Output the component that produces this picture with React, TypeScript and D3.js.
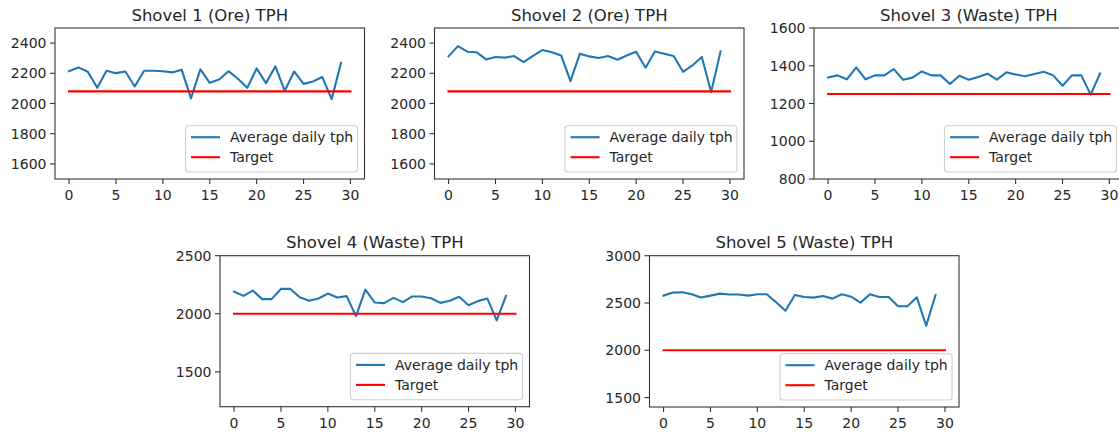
import React from 'react';
import * as d3 from 'd3';

// ---------- DATA ----------
const days = [0, 1, 2, 3, 4, 5, 6, 7, 8, 9, 10, 11, 12, 13, 14, 15, 16, 17, 18, 19, 20, 21, 22, 23, 24, 25, 26, 27, 28, 29];
const xTicks = [0, 5, 10, 15, 20, 25, 30];
const targetSpan = [0, 30];

const shovel1Tph = [2214, 2239, 2210, 2104, 2217, 2201, 2212, 2113, 2217, 2217, 2214, 2206, 2224, 2034, 2226, 2137, 2159, 2214, 2164, 2104, 2232, 2135, 2246, 2084, 2212, 2130, 2146, 2175, 2029, 2270];
const shovel2Tph = [2312, 2380, 2343, 2339, 2292, 2308, 2304, 2314, 2274, 2316, 2354, 2339, 2318, 2148, 2330, 2312, 2301, 2314, 2290, 2318, 2343, 2237, 2345, 2330, 2314, 2210, 2252, 2308, 2076, 2345];
const shovel3Tph = [1338, 1349, 1328, 1391, 1328, 1349, 1349, 1382, 1326, 1337, 1370, 1349, 1349, 1303, 1347, 1326, 1340, 1358, 1326, 1365, 1354, 1344, 1356, 1368, 1349, 1294, 1349, 1349, 1247, 1359];
const shovel4Tph = [2189, 2154, 2200, 2126, 2126, 2214, 2214, 2143, 2112, 2132, 2174, 2140, 2152, 1980, 2208, 2097, 2092, 2137, 2100, 2149, 2149, 2134, 2094, 2112, 2146, 2074, 2109, 2132, 1943, 2154];
const shovel5Tph = [2578, 2610, 2613, 2592, 2557, 2578, 2599, 2589, 2589, 2578, 2592, 2592, 2507, 2418, 2585, 2564, 2557, 2574, 2546, 2592, 2567, 2504, 2592, 2564, 2564, 2465, 2465, 2560, 2259, 2585];

const titles = ['Shovel 1 (Ore) TPH', 'Shovel 2 (Ore) TPH', 'Shovel 3 (Waste) TPH', 'Shovel 4 (Waste) TPH', 'Shovel 5 (Waste) TPH'];
const targets = [2080, 2080, 1250, 2000, 2000];
const yDomains = [[1500, 2500], [1500, 2500], [800, 1600], [1200, 2500], [1400, 3000]];
const yTicksOre = [1600, 1800, 2000, 2200, 2400];
const yTicksShovel3 = [800, 1000, 1200, 1400, 1600];
const yTicksShovel4 = [1500, 2000, 2500];
const yTicksShovel5 = [1500, 2000, 2500, 3000];
const legendLabels = ['Average daily tph', 'Target'];

// ---------- LAYOUT / STYLE ----------
const FONT = '"DejaVu Sans", Verdana, sans-serif';
const TEXT = '#262626';
const BLUE = '#1f77b4';
const RED = '#ff0000';

const boxes = [
  { left: 55, top: 28, width: 309.5, height: 151 },
  { left: 434.5, top: 28, width: 309.5, height: 151 },
  { left: 814, top: 28, width: 309.5, height: 151 },
  { left: 220, top: 255.7, width: 309.5, height: 151 },
  { left: 649.5, top: 255.7, width: 309.5, height: 151.3 },
];

const panels = [
  { series: shovel1Tph, yTicks: yTicksOre },
  { series: shovel2Tph, yTicks: yTicksOre },
  { series: shovel3Tph, yTicks: yTicksShovel3 },
  { series: shovel4Tph, yTicks: yTicksShovel4 },
  { series: shovel5Tph, yTicks: yTicksShovel5 },
].map((p, i) => ({ ...p, title: titles[i], target: targets[i], yDomain: yDomains[i], box: boxes[i] }));

function Panel({ series, yTicks, title, target, yDomain, box }: any) {
  const x = d3.scaleLinear().domain([-1.5, 31.5]).range([box.left, box.left + box.width]);
  const y = d3.scaleLinear().domain(yDomain).range([box.top + box.height, box.top]);
  const line = d3.line<number>().x((_, i) => x(days[i])).y((d) => y(d));
  const targetLine = d3.line<number>().x((d) => x(d)).y(() => y(target));
  const bottom = box.top + box.height;
  const right = box.left + box.width;

  const legW = 172;
  const legH = 46.3;
  const legR = right - 7;
  const legB = bottom - 7;
  const legL = legR - legW;
  const legT = legB - legH;

  return (
    <g>
      <path d={line(series) || ''} fill="none" stroke={BLUE} strokeWidth={2.1} strokeLinejoin="round" strokeLinecap="square" />
      <path d={targetLine(targetSpan) || ''} fill="none" stroke={RED} strokeWidth={2.1} strokeLinecap="square" />
      <rect x={box.left} y={box.top} width={box.width} height={box.height} fill="none" stroke="#333" strokeWidth={1.1} />
      {xTicks.map((t) => (
        <g key={'x' + t}>
          <line x1={x(t)} x2={x(t)} y1={bottom} y2={bottom + 5} stroke="#333" strokeWidth={1.1} />
          <text x={x(t)} y={bottom + 21} textAnchor="middle" fontSize={14} fontFamily={FONT} fill={TEXT}>{t}</text>
        </g>
      ))}
      {yTicks.map((t: number) => (
        <g key={'y' + t}>
          <line x1={box.left - 5} x2={box.left} y1={y(t)} y2={y(t)} stroke="#333" strokeWidth={1.1} />
          <text x={box.left - 8.5} y={y(t)} dy="0.36em" textAnchor="end" fontSize={14} fontFamily={FONT} fill={TEXT}>{t}</text>
        </g>
      ))}
      <text x={(box.left + right) / 2} y={box.top - 7.5} textAnchor="middle" fontSize={16.5} fontFamily={FONT} fill={TEXT}>{title}</text>
      <rect x={legL} y={legT} width={legW} height={legH} rx={3} fill="white" fillOpacity={0.8} stroke="#d0d0d0" strokeWidth={1.1} />
      {legendLabels.map((lab, i) => {
        const cy = legT + 11.5 + i * 20;
        return (
          <g key={lab}>
            <line x1={legL + 5.5} x2={legL + 34.5} y1={cy} y2={cy} stroke={i === 0 ? BLUE : RED} strokeWidth={2.1} />
            <text x={legL + 44.5} y={cy} dy="0.36em" fontSize={14} fontFamily={FONT} fill={TEXT}>{lab}</text>
          </g>
        );
      })}
    </g>
  );
}

export default function App() {
  return (
    <svg width={1119} height={433} style={{ position: 'absolute', left: 0, top: 0, background: 'white' }}>
      <rect x={0} y={0} width={1119} height={433} fill="white" />
      {panels.map((p, i) => (
        <Panel key={i} {...p} />
      ))}
    </svg>
  );
}
